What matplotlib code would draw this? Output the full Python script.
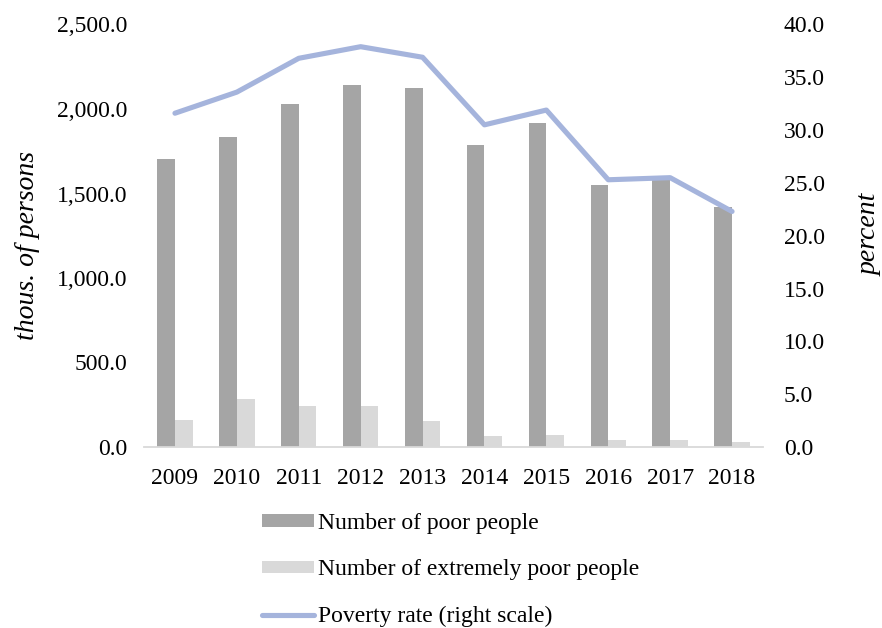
import numpy as np
import matplotlib.pyplot as plt
from matplotlib.ticker import FuncFormatter

plt.rcParams['font.family'] = ['Liberation Serif', 'DejaVu Serif']
plt.rcParams['font.size'] = 17

years = ['2009', '2010', '2011', '2012', '2013', '2014', '2015', '2016', '2017', '2018']
poor = [1706, 1834, 2032, 2140, 2122, 1789, 1919, 1548, 1578, 1420]
extreme = [158, 286, 243, 241, 152, 65, 69, 41, 40, 28]
rate = [31.6, 33.6, 36.8, 37.9, 36.9, 30.5, 31.9, 25.3, 25.5, 22.3]

grayDark = '#a5a5a5'
grayLight = '#d9d9d9'
lineBlue = '#a5b4dc'

fig = plt.figure(figsize=(8.82, 6.28), dpi=100)
ax = fig.add_axes([144/882, 1-447/628, (763-144)/882, (447-24.5)/628])
ax2 = ax.twinx()

x = np.arange(len(years))
w = 0.286
b1 = ax.bar(x - w/2, poor, w, color=grayDark, label='Number of poor people', zorder=2)
b2 = ax.bar(x + w/2, extreme, w, color=grayLight, label='Number of extremely poor people', zorder=2)
l1, = ax2.plot(x, rate, color=lineBlue, lw=3.7, solid_capstyle='round',
               solid_joinstyle='round', label='Poverty rate (right scale)')

ax.set_xlim(-0.5, len(years) - 0.5)
ax.set_ylim(0, 2500)
ax2.set_ylim(0, 40)
ax.set_yticks(np.arange(0, 2501, 500))
ax2.set_yticks(np.arange(0, 41, 5))
ax.yaxis.set_major_formatter(FuncFormatter(lambda v, p: '{:,.1f}'.format(v)))
ax2.yaxis.set_major_formatter(FuncFormatter(lambda v, p: '{:.1f}'.format(v)))
ax.set_xticks(x)
ax.set_xticklabels(years)

for a in (ax, ax2):
    for s in a.spines.values():
        s.set_visible(False)
ax.spines['bottom'].set_visible(True)
ax.spines['bottom'].set_color(grayLight)
ax.spines['bottom'].set_linewidth(1.3)
ax.tick_params(axis='both', length=0)
ax.tick_params(axis='y', pad=12)
ax.tick_params(axis='x', pad=15)
ax2.tick_params(axis='y', length=0, pad=15)

fig.text(28/882, 1-245/628, 'thous. of persons', rotation=90, style='italic',
         ha='center', va='center', fontsize=20)
fig.text(870/882, 1-235/628, 'percent', rotation=90, style='italic',
         ha='center', va='center', fontsize=20)

fig.legend(handles=[b1, b2, l1], loc='upper left',
           bbox_to_anchor=(262/882, 1-513/628), frameon=False,
           borderpad=0, borderaxespad=0, handlelength=2.2, handleheight=0.45,
           handletextpad=0.18, labelspacing=1.08)

plt.savefig('out.png', dpi=100)
